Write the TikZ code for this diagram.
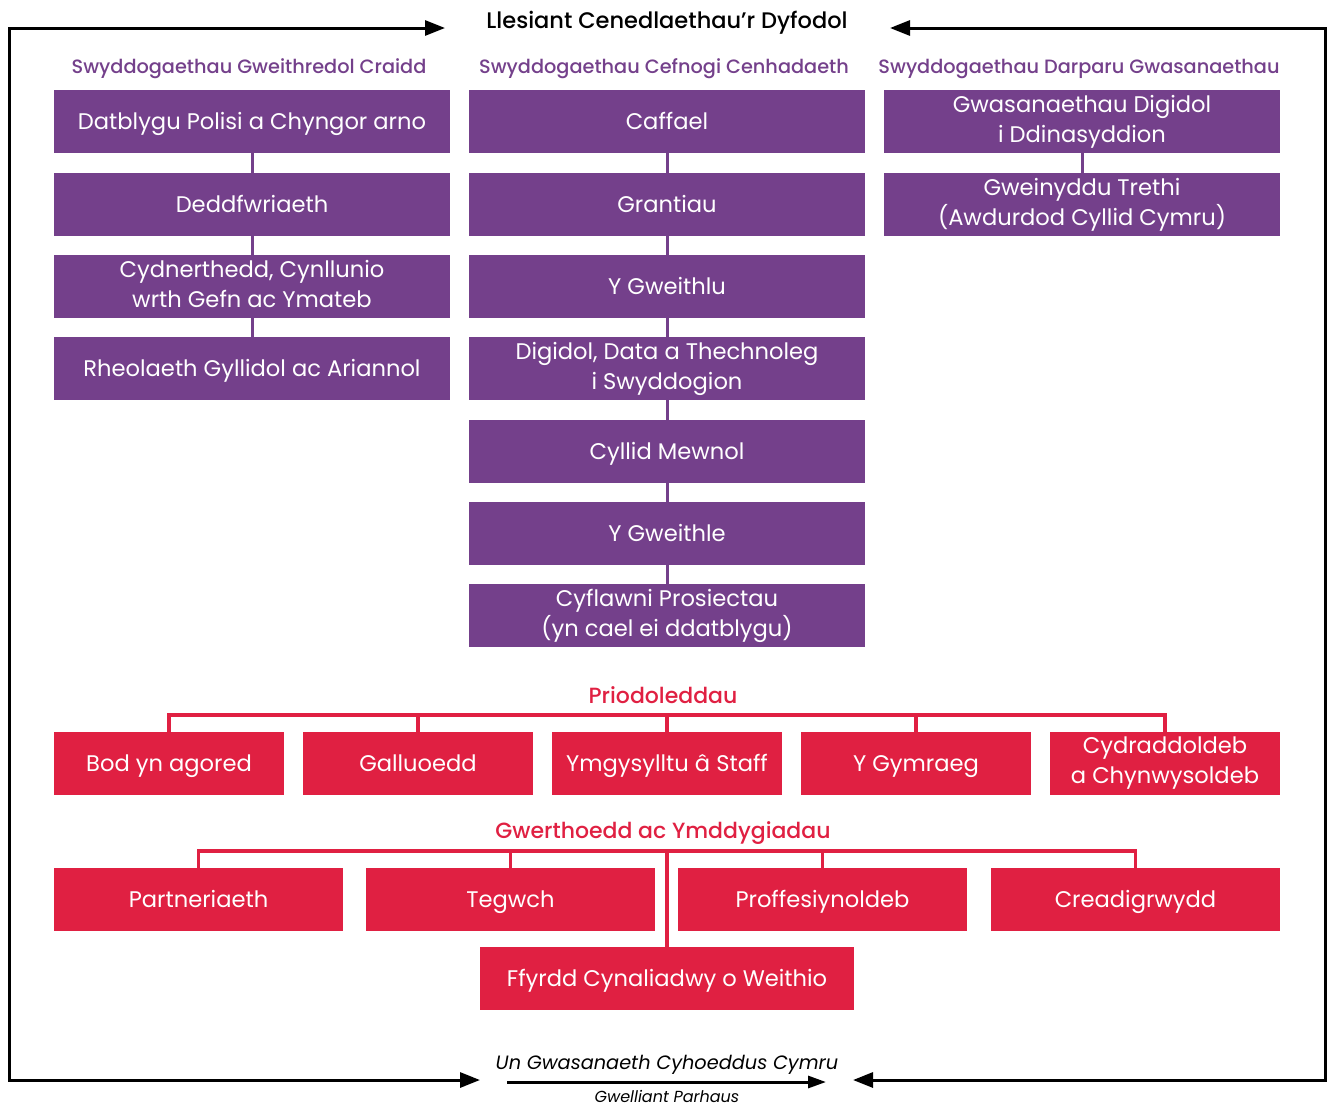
\documentclass[tikz,border=0pt]{standalone}
\usepackage{fontspec}
\setmainfont{Poppins}[BoldFont={* Medium},ItalicFont={* Italic},BoldItalicFont={* Medium Italic}]
\usetikzlibrary{arrows.meta}
\definecolor{wgpurple}{HTML}{74408B}
\definecolor{wgred}{HTML}{E02042}
\newcommand\boxstrut{\rule[-0.25em]{0pt}{1.2em}}
\begin{document}
\begin{tikzpicture}[x=1pt,y=-1pt,
  boxtext/.style={text=white,inner sep=0pt,align=center,font=\fontsize{22.6}{30}\selectfont,execute at begin node=\boxstrut,execute at end node=\boxstrut},
  pbox/.style={boxtext,fill=wgpurple,minimum width=396pt,minimum height=63pt},
  rbox/.style={boxtext,fill=wgred,minimum height=63pt},
  phead/.style={text=wgpurple,font=\bfseries\fontsize{19.3}{22}\selectfont,inner sep=0pt,anchor=base},
  rhead/.style={text=wgred,font=\bfseries\fontsize{22}{24}\selectfont,inner sep=0pt,anchor=base},
  plink/.style={draw=wgpurple,line width=3pt},
  rlink/.style={draw=wgred,line width=3.5pt},
  frame/.style={draw=black,line width=3pt},
  tip/.style={-{Triangle[length=20pt,width=15pt]}}
]
\useasboundingbox (0,0) rectangle (1327,1106);

% title
\node[font=\bfseries\fontsize{22.5}{24}\selectfont,inner sep=0pt,anchor=base] (title) at (667,28) {Llesiant Cenedlaethau’r Dyfodol};

% column headers
\node[phead] (h1) at (249,73) {Swyddogaethau Gweithredol Craidd};
\node[phead] (h2) at (664,73) {Swyddogaethau Cefnogi Cenhadaeth};
\node[phead] (h3) at (1079,73) {Swyddogaethau Darparu Gwasanaethau};

% column 1
\node[pbox] (a1) at (252,121.5) {Datblygu Polisi a Chyngor arno};
\node[pbox] (a2) at (252,204.5) {Deddfwriaeth};
\node[pbox] (a3) at (252,286.5) {Cydnerthedd, Cynllunio\\wrth Gefn ac Ymateb};
\node[pbox] (a4) at (252,368.5) {Rheolaeth Gyllidol ac Ariannol};
% column 2
\node[pbox] (b1) at (667,121.5) {Caffael};
\node[pbox] (b2) at (667,204.5) {Grantiau};
\node[pbox] (b3) at (667,286.5) {Y Gweithlu};
\node[pbox] (b4) at (667,368.5) {Digidol, Data a Thechnoleg\\i Swyddogion};
\node[pbox] (b5) at (667,451.5) {Cyllid Mewnol};
\node[pbox] (b6) at (667,533.5) {Y Gweithle};
\node[pbox] (b7) at (667,615.5) {Cyflawni Prosiectau\\(yn cael ei ddatblygu)};
% column 3
\node[pbox] (c1) at (1082,121.5) {Gwasanaethau Digidol\\i Ddinasyddion};
\node[pbox] (c2) at (1082,204.5) {Gweinyddu Trethi\\(Awdurdod Cyllid Cymru)};

\draw[plink] (a1.south) -- (a2.north) (a2.south) -- (a3.north) (a3.south) -- (a4.north);
\draw[plink] (b1.south) -- (b2.north) (b2.south) -- (b3.north) (b3.south) -- (b4.north)
  (b4.south) -- (b5.north) (b5.south) -- (b6.north) (b6.south) -- (b7.north);
\draw[plink] (c1.south) -- (c2.north);

% Priodoleddau
\node[rhead] (ph) at (663,703) {Priodoleddau};
\node[rbox,minimum width=230pt] (p1) at (169,763.5) {Bod yn agored};
\node[rbox,minimum width=230pt] (p2) at (418,763.5) {Galluoedd};
\node[rbox,minimum width=230pt] (p3) at (667,763.5) {Ymgysylltu â Staff};
\node[rbox,minimum width=230pt] (p4) at (916,763.5) {Y Gymraeg};
\node[rbox,minimum width=230pt] (p5) at (1165,763.5) {Cydraddoldeb\\a Chynwysoldeb};
\draw[rlink] (p1.north) |- (p5.north |- 0,715) -- (p5.north);
\foreach \n in {p2,p3,p4} \draw[rlink] (\n.north) -- (\n.north |- 0,715);

% Gwerthoedd
\node[rhead] (gh) at (663,838) {Gwerthoedd ac Ymddygiadau};
\node[rbox,minimum width=289pt] (g1) at (198.5,899.5) {Partneriaeth};
\node[rbox,minimum width=289pt] (g2) at (510.5,899.5) {Tegwch};
\node[rbox,minimum width=289pt] (g3) at (822.5,899.5) {Proffesiynoldeb};
\node[rbox,minimum width=289pt] (g4) at (1135.5,899.5) {Creadigrwydd};
\node[rbox,minimum width=374pt] (g5) at (667,978.5) {Ffyrdd Cynaliadwy o Weithio};
\draw[rlink] (g1.north) |- (g4.north |- 0,851) -- (g4.north);
\foreach \n in {g2,g3} \draw[rlink] (\n.north) -- (\n.north |- 0,851);
\draw[rlink] (g5.north) -- (g5.north |- 0,851);

% bottom text
\node[font=\itshape\fontsize{19.3}{24}\selectfont,inner sep=0pt,anchor=base] (un) at (667,1069) {Un Gwasanaeth Cyhoeddus Cymru};
\node[font=\itshape\fontsize{16}{18}\selectfont,inner sep=0pt,anchor=base] (gp) at (667,1102) {Gwelliant Parhaus};
\coordinate (gl) at (507,1082);
\coordinate (gr) at (826,1082);
\draw[frame,-{Triangle[length=18pt,width=12pt]}] (gl) -- (gr);

% frame
\coordinate (tl) at (9,28);
\coordinate (tr) at (1325,28);
\coordinate (bl) at (9,1080);
\coordinate (br) at (1325,1080);
\coordinate (tla) at (445,28);
\coordinate (tra) at (890,28);
\coordinate (bla) at (480,1080);
\coordinate (bra) at (853,1080);
\draw[frame,tip] (bl) -- (tl) -- (tla);
\draw[frame,tip] (br) -- (tr) -- (tra);
\draw[frame,tip] (tl) -- (bl) -- (bla);
\draw[frame,tip] (tr) -- (br) -- (bra);
\end{tikzpicture}
\end{document}
